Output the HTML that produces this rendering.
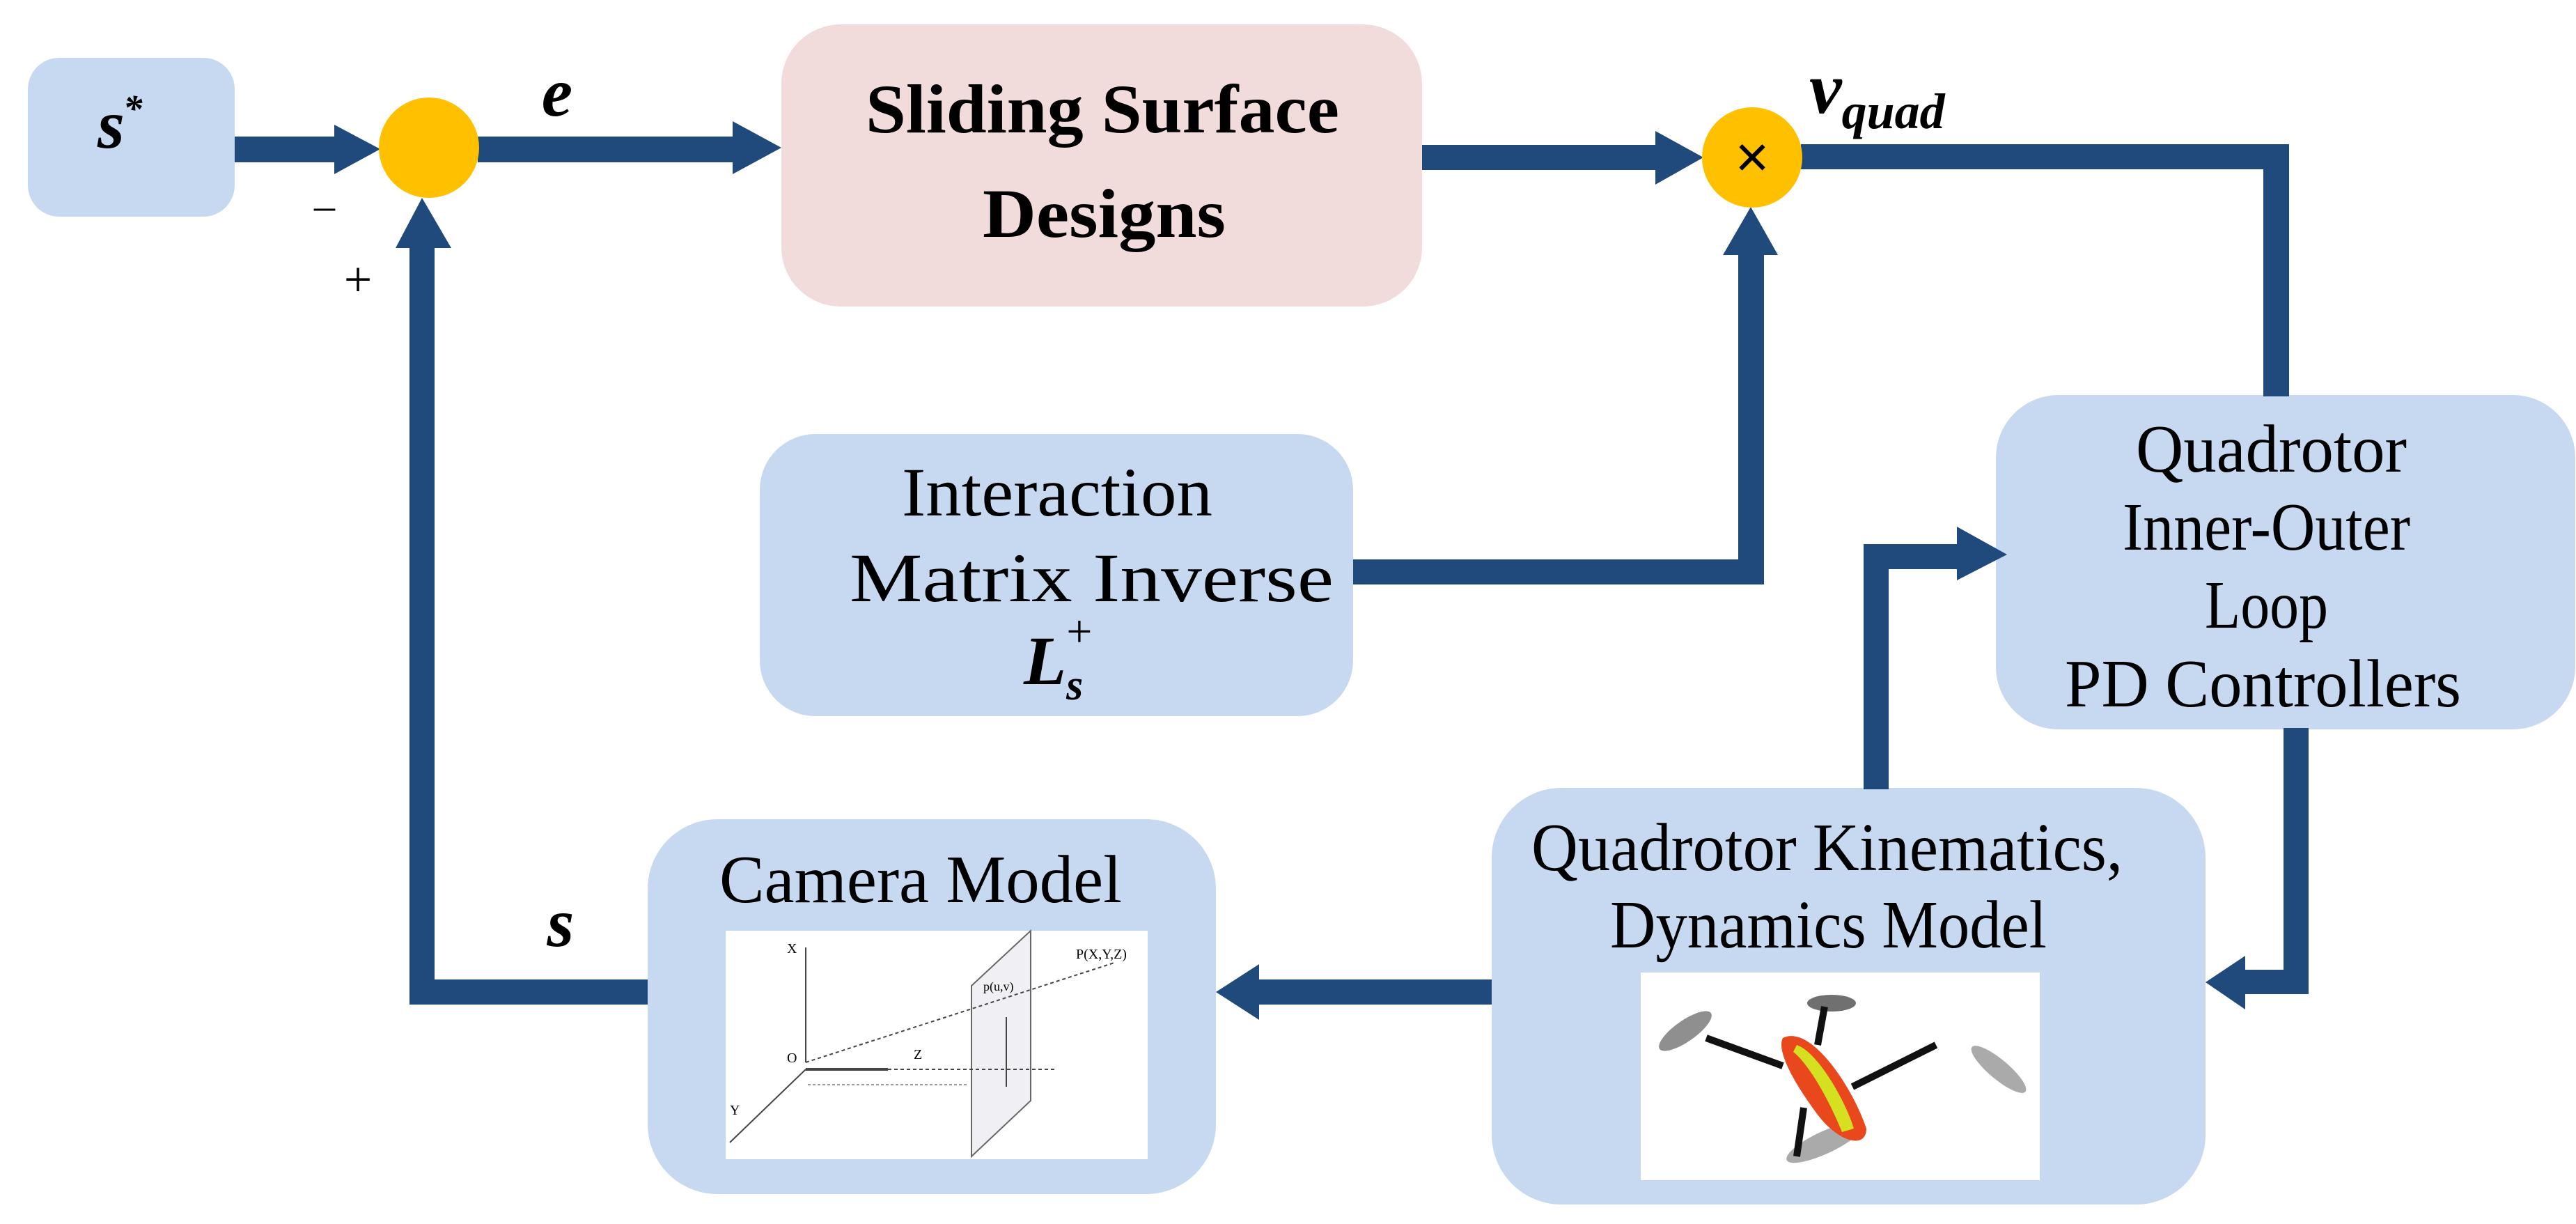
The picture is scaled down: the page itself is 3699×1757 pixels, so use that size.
<!DOCTYPE html>
<html><head><meta charset="utf-8"><style>
html,body{margin:0;padding:0;background:#fff;}
svg{display:block;}
text{font-family:"Liberation Serif",serif;fill:#000;}
</style></head><body>
<svg width="3699" height="1757" viewBox="0 0 3699 1757" xmlns="http://www.w3.org/2000/svg">
<!-- boxes -->
<rect x="40" y="83" width="297" height="228" rx="45" fill="#c6d9f0"/>
<rect x="1122" y="35" width="920" height="405" rx="85" fill="#f2dcdb"/>
<rect x="1091" y="623" width="852" height="405" rx="80" fill="#c6d9f0"/>
<rect x="2866" y="567" width="832" height="480" rx="90" fill="#c6d9f0"/>
<rect x="930" y="1176" width="816" height="538" rx="100" fill="#c6d9f0"/>
<rect x="2142" y="1131" width="1025" height="598" rx="100" fill="#c6d9f0"/>

<!-- connectors -->
<g fill="#214a7c">
<rect x="337" y="196" width="145" height="37"/>
<polygon points="480,179 546,214 480,250"/>
<rect x="686" y="196" width="370" height="37"/>
<polygon points="1052,174 1122,212 1052,250"/>
<rect x="2042" y="208" width="340" height="36"/>
<polygon points="2377,188 2446,226 2377,265"/>
<rect x="1943" y="803" width="590" height="36"/>
<rect x="2496" y="360" width="37" height="479"/>
<polygon points="2474,366 2514,297 2553,366"/>
<rect x="2586" y="207" width="701" height="36"/>
<rect x="3250" y="207" width="37" height="362"/>
<rect x="3279" y="1045" width="36" height="382"/>
<rect x="3220" y="1392" width="95" height="35"/>
<polygon points="3224,1372 3167,1410 3224,1449"/>
<rect x="2676" y="781" width="36" height="352"/>
<rect x="2676" y="781" width="140" height="36"/>
<polygon points="2810,756 2882,796 2810,833"/>
<rect x="1804" y="1406" width="338" height="36"/>
<polygon points="1808,1384 1746,1424 1808,1464"/>
<rect x="596" y="1406" width="334" height="36"/>
<rect x="588" y="350" width="36" height="1092"/>
<polygon points="568,356 606,284 648,356"/>
</g>

<!-- circles -->
<circle cx="616" cy="212" r="72" fill="#ffc000"/>
<circle cx="2516" cy="226" r="72" fill="#ffc000"/>
<text x="2516" y="254" font-size="84" text-anchor="middle" style="font-family:'Liberation Sans',sans-serif">×</text>

<!-- labels -->
<text x="140" y="212" font-size="100" font-weight="bold" font-style="italic">s<tspan font-size="55" dx="-2" dy="-38">*</tspan></text>
<text x="800" y="166" font-size="100" font-weight="bold" font-style="italic" text-anchor="middle">e</text>
<text x="2598" y="162" font-size="105" font-weight="bold" font-style="italic">v<tspan font-size="72" dy="22">quad</tspan></text>
<text x="466" y="315" font-size="60" text-anchor="middle">–</text>
<text x="514" y="425" font-size="72" text-anchor="middle">+</text>
<text x="805" y="1358" font-size="100" font-weight="bold" font-style="italic" text-anchor="middle">s</text>

<text x="1243" y="190" font-size="100" font-weight="bold" textLength="680" lengthAdjust="spacingAndGlyphs">Sliding Surface</text>
<text x="1411" y="340" font-size="100" font-weight="bold" textLength="349" lengthAdjust="spacingAndGlyphs">Designs</text>

<text x="1295" y="740" font-size="100" textLength="446" lengthAdjust="spacingAndGlyphs">Interaction</text>
<text x="1220" y="863" font-size="100" textLength="695" lengthAdjust="spacingAndGlyphs">Matrix Inverse</text>
<text x="1470" y="982" font-size="100" font-weight="bold" font-style="italic">L<tspan font-size="62" dy="22">s</tspan><tspan font-size="66" dx="-24" dy="-76" font-style="normal" font-weight="normal">+</tspan></text>

<text x="3067" y="677" font-size="98" textLength="389" lengthAdjust="spacingAndGlyphs">Quadrotor</text>
<text x="3048" y="789" font-size="98" textLength="413" lengthAdjust="spacingAndGlyphs">Inner-Outer</text>
<text x="3166" y="901" font-size="98" textLength="177" lengthAdjust="spacingAndGlyphs">Loop</text>
<text x="2965" y="1014" font-size="98" textLength="569" lengthAdjust="spacingAndGlyphs">PD Controllers</text>

<text x="1033" y="1295" font-size="98" textLength="578" lengthAdjust="spacingAndGlyphs">Camera Model</text>
<text x="2199" y="1249" font-size="98" textLength="849" lengthAdjust="spacingAndGlyphs">Quadrotor Kinematics,</text>
<text x="2312" y="1360" font-size="98" textLength="627" lengthAdjust="spacingAndGlyphs">Dynamics Model</text>

<!-- camera image -->
<rect x="1042" y="1336" width="606" height="328" fill="#fff"/>
<g stroke="#444" stroke-width="2" fill="none">
<line x1="1157" y1="1525" x2="1157" y2="1360"/>
<line x1="1157" y1="1535" x2="1048" y2="1640"/>
<line x1="1157" y1="1535" x2="1275" y2="1535" stroke-width="4"/>
<polygon points="1395,1415 1480,1336 1480,1580 1395,1660" fill="#f0f0f4" stroke="#666"/>
<line x1="1157" y1="1525" x2="1600" y2="1382" stroke-dasharray="5,4"/>
<line x1="1275" y1="1535" x2="1515" y2="1535" stroke-dasharray="5,4"/>
<line x1="1160" y1="1557" x2="1390" y2="1557" stroke="#999" stroke-dasharray="4,3"/>
<line x1="1445" y1="1560" x2="1445" y2="1460"/>
</g>
<text x="1130" y="1368" font-size="20">X</text>
<text x="1130" y="1525" font-size="20">O</text>
<text x="1312" y="1520" font-size="20">Z</text>
<text x="1545" y="1376" font-size="20">P(X,Y,Z)</text>
<text x="1412" y="1422" font-size="18">p(u,v)</text>
<text x="1048" y="1600" font-size="20">Y</text>

<!-- drone image -->
<rect x="2356" y="1396" width="573" height="298" fill="#fff"/>
<g>
<ellipse cx="2420" cy="1480" rx="45" ry="15" fill="#444" opacity="0.6" transform="rotate(-35 2420 1480)"/>
<ellipse cx="2870" cy="1535" rx="50" ry="14" fill="#555" opacity="0.5" transform="rotate(40 2870 1535)"/>
<ellipse cx="2630" cy="1440" rx="35" ry="12" fill="#333" opacity="0.7"/>
<ellipse cx="2620" cy="1640" rx="60" ry="16" fill="#555" opacity="0.5" transform="rotate(-25 2620 1640)"/>
<path d="M2450,1490 L2560,1530 M2620,1445 L2610,1500 M2660,1560 L2780,1500 M2590,1590 L2580,1660" stroke="#111" stroke-width="10"/>
<path d="M2560,1490 C2600,1470 2660,1560 2680,1620 C2680,1650 2640,1640 2610,1600 C2580,1560 2550,1510 2560,1490 Z" fill="#e8481c"/>
<path d="M2580,1500 C2610,1510 2650,1580 2662,1620 L2645,1625 C2625,1575 2595,1525 2575,1510 Z" fill="#d4e020"/>
</g>
</svg>
</body></html>
